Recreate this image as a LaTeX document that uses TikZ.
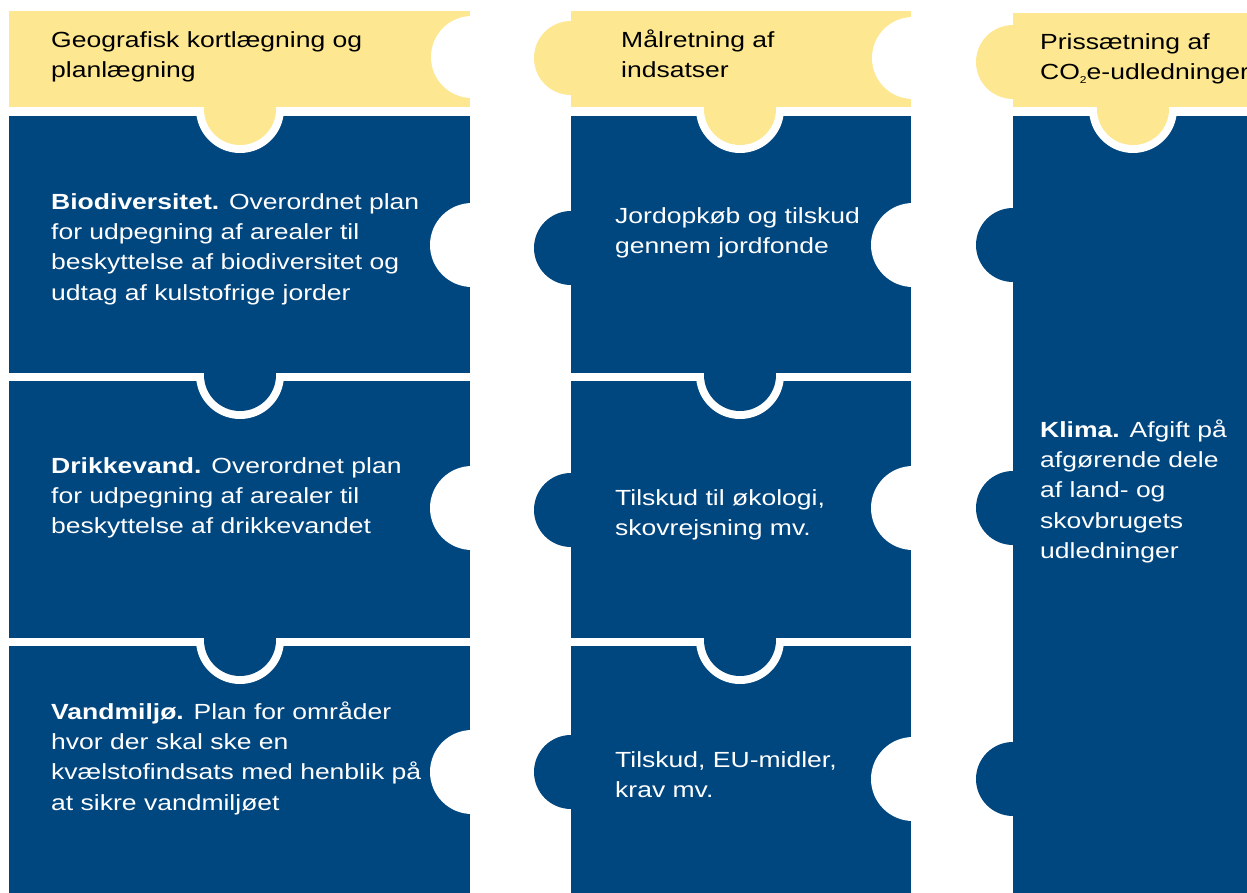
\documentclass[tikz,border=0pt]{standalone}
\usepackage{fontspec}
\setmainfont[FakeStretch=1.21]{Liberation Sans}
\definecolor{pyellow}{RGB}{253,232,145}
\definecolor{pblue}{RGB}{0,70,127}
\newcommand{\plines}[1]{\begin{tabular}[t]{@{}l@{}}#1\end{tabular}}
\newcommand{\cotwo}{CO\raisebox{-0.35ex}{\fontsize{10}{10}\selectfont 2}}
\tikzset{
  bodytext/.style={font=\fontsize{22}{30.5}\selectfont, anchor=base west, inner sep=0pt, text=white},
  headtext/.style={bodytext, text=black},
  yel/.style={fill=pyellow},
  blu/.style={fill=pblue},
  cut/.style={fill=white},
}
\begin{document}
\begin{tikzpicture}[x=1bp,y=-1bp]
\useasboundingbox (0,0) rectangle (1247,893);
% ---------- column 1 ----------
\fill[blu] (9,646) rectangle (470,900);
\fill[cut] (240,640) circle (44);
\fill[blu] (9,381) rectangle (470,638);
\fill[blu] (240,640) circle (36);
\fill[cut] (240,375) circle (44);
\fill[blu] (9,116) rectangle (470,373);
\fill[blu] (240,375) circle (36);
\fill[cut] (240,109) circle (44);
\fill[yel] (9,11) rectangle (470,107);
\fill[yel] (240,109) circle (36);
\fill[cut] (472,57) circle (41);
\fill[cut] (472,245) circle (42);
\fill[cut] (472,508) circle (42);
\fill[cut] (472,772) circle (42);
% ---------- column 2 ----------
\fill[blu] (571,646) rectangle (911,900);
\fill[cut] (740,640) circle (44);
\fill[blu] (571,381) rectangle (911,638);
\fill[blu] (740,640) circle (36);
\fill[cut] (740,375) circle (44);
\fill[blu] (571,116) rectangle (911,373);
\fill[blu] (740,375) circle (36);
\fill[cut] (740,109) circle (44);
\fill[yel] (571,11) rectangle (911,107);
\fill[yel] (740,109) circle (36);
\fill[yel] (571,58) circle (37);
\fill[blu] (571,248) circle (37);
\fill[blu] (571,510) circle (37);
\fill[blu] (571,772) circle (37);
\fill[cut] (913,58) circle (41);
\fill[cut] (913,245) circle (42);
\fill[cut] (913,508) circle (42);
\fill[cut] (913,779) circle (42);
% ---------- column 3 ----------
\fill[blu] (1013,116) rectangle (1260,900);
\fill[cut] (1133,109) circle (44);
\fill[yel] (1013,13) rectangle (1260,107);
\fill[yel] (1133,109) circle (36);
\fill[yel] (1013,62) circle (37);
\fill[blu] (1013,245) circle (37);
\fill[blu] (1013,508) circle (37);
\fill[blu] (1013,779) circle (37);
% ---------- texts ----------
\node[headtext] (h1) at (51,47) {\plines{Geografisk kortlægning og\\planlægning}};
\node[headtext] (h2) at (621,47) {\plines{Målretning af\\indsatser}};
\node[headtext] (h3) at (1040,49) {\plines{Prissætning af\\\cotwo e-udledninger}};
\node[bodytext] (b1) at (51,209) {\plines{\textbf{Biodiversitet.} Overordnet plan\\for udpegning af arealer til\\beskyttelse af biodiversitet og\\udtag af kulstofrige jorder}};
\node[bodytext] (b2) at (51,473) {\plines{\textbf{Drikkevand.} Overordnet plan\\for udpegning af arealer til\\beskyttelse af drikkevandet}};
\node[bodytext] (b3) at (51,719) {\plines{\textbf{Vandmiljø.} Plan for områder\\hvor der skal ske en\\kvælstofindsats med henblik på\\at sikre vandmiljøet}};
\node[bodytext] (m1) at (615,223) {\plines{Jordopkøb og tilskud\\gennem jordfonde}};
\node[bodytext] (m2) at (615,505) {\plines{Tilskud til økologi,\\skovrejsning mv.}};
\node[bodytext] (m3) at (615,767) {\plines{Tilskud, EU-midler,\\krav mv.}};
\node[bodytext] (k) at (1040,437) {\plines{\textbf{Klima.} Afgift på\\afgørende dele\\af land- og\\skovbrugets\\udledninger}};
\end{tikzpicture}
\end{document}
